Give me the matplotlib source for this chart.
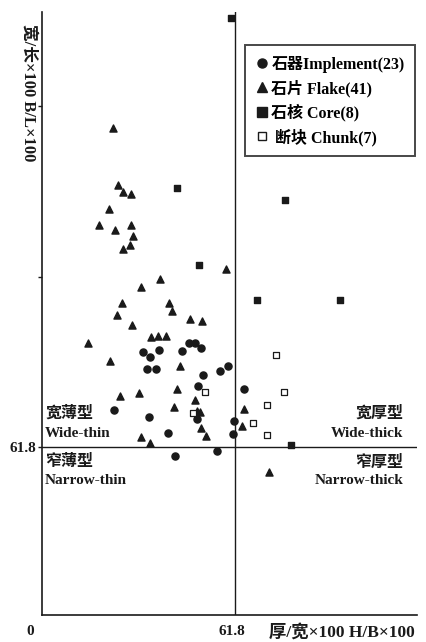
import matplotlib
matplotlib.use('Agg')
import matplotlib.pyplot as plt
from matplotlib.lines import Line2D
from matplotlib.transforms import blended_transform_factory

plt.rcParams['font.family'] = ['Liberation Serif', 'Noto Sans CJK SC']
plt.rcParams['font.weight'] = 'bold'

# thickness/breadth x100 (x) vs breadth/length x100 (y)
implement_x = [47.0, 49.0, 50.9, 32.4, 34.5, 37.5, 44.7, 33.4, 36.4, 51.3, 56.9, 59.4,
               49.9, 64.6, 22.9, 34.1, 49.4, 40.2, 61.4, 60.9, 42.4, 55.9]
implement_y = [99.6, 99.6, 97.6, 96.2, 94.5, 96.8, 96.5, 90.2, 90.2, 87.9, 89.4, 91.1,
               83.9, 82.9, 75.1, 72.6, 71.8, 66.8, 71.2, 66.5, 58.6, 60.5]

flake_x = [22.7, 24.2, 25.9, 28.3, 21.5, 18.2, 23.3, 28.4, 29.2, 25.9, 28.0, 58.7,
           37.7, 31.6, 25.5, 40.6, 24.1, 41.6, 28.7, 47.3, 51.0, 34.7, 37.1, 39.6,
           14.7, 21.6, 44.1, 43.2, 24.9, 31.1, 48.8, 42.3, 50.5, 49.5, 64.6, 50.9,
           52.3, 64.0, 31.6, 34.4, 72.4]
flake_y = [177.4, 156.7, 154.3, 153.5, 148.0, 142.1, 140.4, 142.2, 138.2, 133.6, 134.9, 126.5,
           122.7, 119.7, 113.9, 113.9, 109.6, 111.2, 105.9, 108.2, 107.3, 101.8, 102.1, 102.1,
           99.6, 93.1, 91.1, 82.8, 80.3, 81.3, 78.7, 76.2, 74.6, 75.0, 75.7, 68.8,
           65.8, 69.5, 65.4, 63.4, 52.7]

core_x = [60.4, 43.2, 50.1, 77.5, 68.8, 95.2, 79.5]
core_y = [217.2, 155.6, 127.7, 151.4, 115.1, 115.2, 62.5]

chunk_x = [74.8, 77.3, 71.8, 67.3, 71.8, 52.2, 48.3]
chunk_y = [95.1, 81.6, 77.0, 70.5, 66.1, 81.7, 74.0]

threshold = 61.8
legend_labels = ['石器Implement(23)', '石片 Flake(41)', '石核 Core(8)', ' 断块 Chunk(7)']

ink = '#1a1a1a'
fig = plt.figure(figsize=(4.27, 6.42), dpi=100)
ax = fig.add_axes([0.0984, 0.042, 0.878, 0.939])
ax.set_xlim(0, 119.8)
ax.set_ylim(0.9, 219.4)

ax.axhline(threshold, color=ink, lw=1.0, zorder=1)
ax.axvline(threshold, color=ink, lw=1.0, zorder=1)

ax.scatter(implement_x, implement_y, marker='o', s=26, color=ink, zorder=3)
ax.scatter(flake_x, flake_y, marker='^', s=26, color=ink, zorder=3)
ax.scatter(core_x, core_y, marker='s', s=24, color=ink, zorder=3)
ax.scatter(chunk_x, chunk_y, marker='s', s=18, facecolor='white', edgecolor=ink,
           linewidth=0.9, zorder=3)

for side in ['top', 'right']:
    ax.spines[side].set_visible(False)
for side in ['left', 'bottom']:
    ax.spines[side].set_color(ink)
    ax.spines[side].set_linewidth(1.2)

ax.set_xticks([])
ax.set_yticks([threshold, threshold * 2, threshold * 3])
ax.set_yticklabels(['61.8', '', ''], fontsize=11)
ax.tick_params(axis='y', length=3, width=1, pad=1, colors=ink)

bt = blended_transform_factory(ax.transData, ax.transAxes)
ax.text(-3.8, -0.028, '0', transform=bt, ha='center', va='center', fontsize=11, color=ink)
ax.text(threshold - 1.2, -0.028, '61.8', transform=bt, ha='center', va='center',
        fontsize=11, color=ink)
ax.text(0.995, -0.028, '厚/宽×100 H/B×100', transform=ax.transAxes, ha='right',
        va='center', fontsize=12.5, color=ink)
fig.text(28 / 427, 1 - 93 / 642, '宽/长×100 B/L×100', rotation=-90, ha='center',
         va='center', fontsize=12, color=ink)

# quadrant labels
ax.text(1, 73.8, '宽薄型', fontsize=11.5, color=ink, va='center')
ax.text(1, 66.6, 'Wide-thin', fontsize=11, color=ink, va='center')
ax.text(1, 56.2, '窄薄型', fontsize=11.5, color=ink, va='center')
ax.text(1, 49.6, 'Narrow-thin', fontsize=11, color=ink, va='center')
ax.text(115.5, 73.8, '宽厚型', fontsize=11.5, color=ink, va='center', ha='right')
ax.text(115.5, 66.6, 'Wide-thick', fontsize=11, color=ink, va='center', ha='right')
ax.text(115.5, 56.2, '窄厚型', fontsize=11.5, color=ink, va='center', ha='right')
ax.text(115.5, 49.6, 'Narrow-thick', fontsize=11, color=ink, va='center', ha='right')

handles = [
    Line2D([], [], ls='none', marker='o', ms=6.5, color=ink),
    Line2D([], [], ls='none', marker='^', ms=6.5, color=ink),
    Line2D([], [], ls='none', marker='s', ms=6.5, color=ink),
    Line2D([], [], ls='none', marker='s', ms=5.5, markerfacecolor='white',
           markeredgecolor=ink),
]
leg = ax.legend(handles, legend_labels, loc='upper right', bbox_to_anchor=(0.995, 0.945),
                borderaxespad=0, fontsize=11.5, handlelength=0.8, handletextpad=0.2,
                labelspacing=0.42, fancybox=False, borderpad=0.65, frameon=True)
leg.get_frame().set_edgecolor(ink)
leg.get_frame().set_linewidth(1.4)

fig.savefig('out.png', dpi=100)
